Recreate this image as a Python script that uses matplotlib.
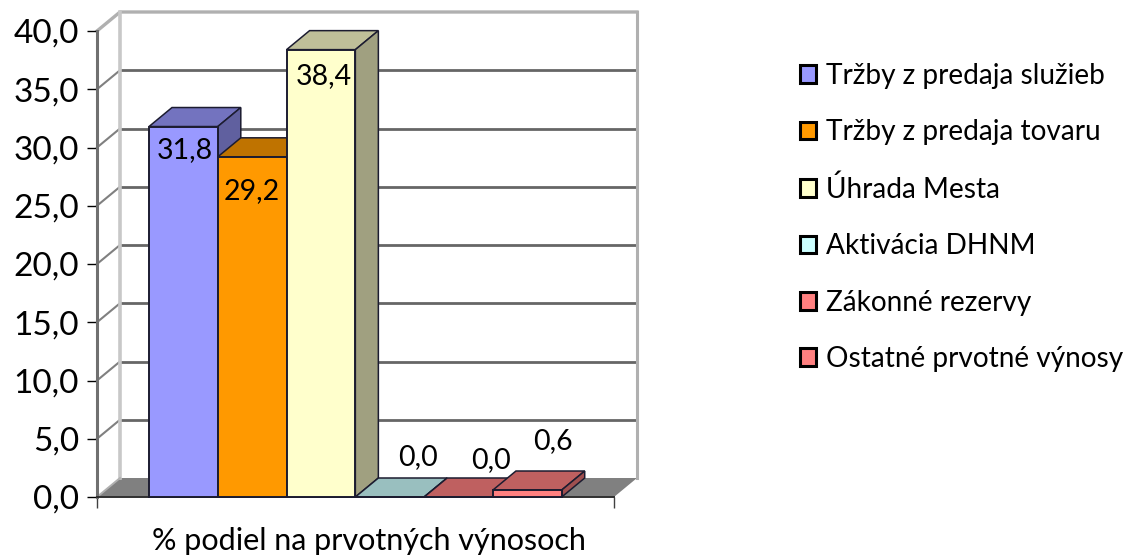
import matplotlib
matplotlib.use("Agg")
import matplotlib.pyplot as plt
from matplotlib.patches import Patch

plt.rcParams["font.family"] = ["Lato", "DejaVu Sans"]

series = ["Tržby z predaja služieb", "Tržby z predaja tovaru", "Úhrada Mesta",
          "Aktivácia DHNM", "Zákonné rezervy", "Ostatné prvotné výnosy"]
values = [31.8, 29.2, 38.4, 0.0, 0.0, 0.6]
front_colors = ["#9999ff", "#ff9900", "#ffffcc", "#ccffff", "#ff8080", "#ff8080"]
top_colors = ["#7373bf", "#bf7300", "#bfbf99", "#99bfbf", "#bf6060", "#bf6060"]
side_colors = ["#60609f", "#a06000", "#a0a080", "#80a0a0", "#a05050", "#a05050"]
y_ticks = [0, 5, 10, 15, 20, 25, 30, 35, 40]
x_label = "% podiel na prvotných výnosoch"

W, H = 1141, 558
# axes box in pixels of the front plane
L, R, T, B = 97, 614, 31, 497
XMIN, XMAX = -0.756, 6.76
YMAX = 40
# 3d depth in data units
DX = 23 / ((R - L) / (XMAX - XMIN))
DY = 19 / ((B - T) / YMAX)

fig = plt.figure(figsize=(W / 100, H / 100), dpi=100)
ax = fig.add_axes([L / W, 1 - B / H, (R - L) / W, (B - T) / H])
ax.set_xlim(XMIN, XMAX)
ax.set_ylim(0, YMAX)
ax.patch.set_visible(False)

# floor
ax.fill([XMIN, XMAX, XMAX + DX, XMIN + DX], [0, 0, DY, DY],
        color="#808080", lw=0, zorder=1, clip_on=False)

# walls and gridlines
for t in y_ticks[1:-1]:
    ax.plot([XMIN + DX, XMAX + DX], [t + DY, t + DY], color="#666666", lw=2.0, zorder=1, clip_on=False)
    ax.plot([XMIN, XMIN + DX], [t, t + DY], color="#808080", lw=1.5, zorder=1, clip_on=False)
ax.plot([XMIN, XMIN + DX, XMAX + DX], [YMAX, YMAX + DY, YMAX + DY], color="#b0b0b0", lw=2.4, zorder=1, clip_on=False)
ax.plot([XMIN + DX, XMIN + DX], [DY, YMAX + DY], color="#c8c8c8", lw=2.6, zorder=1, clip_on=False)
ax.plot([XMAX + DX, XMAX + DX], [DY, YMAX + DY], color="#b0b0b0", lw=2.2, zorder=1, clip_on=False)
ax.plot([XMIN, XMIN + DX], [0, DY], color="#b0b0b0", lw=1.4, zorder=1, clip_on=False)

# bars, left to right so each one covers the side of the previous
edge = "#1c1c30"
for i, v in enumerate(values):
    z = 3 + i
    x0, x1 = i, i + 1
    ax.fill([x0, x1, x1 + DX, x0 + DX], [v, v, v + DY, v + DY], facecolor=top_colors[i],
            edgecolor=edge, lw=1.1, zorder=z, clip_on=False)
    ax.fill([x1, x1 + DX, x1 + DX, x1], [0, DY, v + DY, v], facecolor=side_colors[i],
            edgecolor=edge, lw=1.1, zorder=z, clip_on=False)
    ax.bar(x0 + 0.5, v, width=1, color=front_colors[i], edgecolor=edge, lw=1.4, zorder=z, clip_on=False)

# data labels
label_offsets = [(1, -24), (0, -34), (3, -26), (28, 40), (32, 37), (26, 49)]
for i, v in enumerate(values):
    ax.annotate(f"{v:.1f}".replace(".", ","), (i + 0.5, v), xytext=label_offsets[i],
                textcoords="offset pixels", ha="center", va="center", fontsize=20.5, zorder=20)

# axes
for s in ["top", "right"]:
    ax.spines[s].set_visible(False)
ax.spines["left"].set_color("#707070")
ax.spines["left"].set_linewidth(2.2)
ax.spines["bottom"].set_color("#303030")
ax.spines["bottom"].set_linewidth(1.4)
ax.spines["left"].set_zorder(2)
ax.set_yticks(y_ticks)
ax.set_yticklabels([f"{t:.1f}".replace(".", ",") for t in y_ticks], fontsize=24)
ax.tick_params(axis="y", length=7, width=1, color="black", pad=6)
ax.set_xticks([XMIN, XMAX])
ax.set_xticklabels(["", ""])
ax.tick_params(axis="x", length=8, width=1, color="#404040")
fig.text(369 / W, 1 - 541 / H, x_label, ha="center", va="center", fontsize=22)

# legend
handles = [Patch(facecolor=c, edgecolor="black", lw=2.2) for c in front_colors]
fig.legend(handles, series, loc="upper left", bbox_to_anchor=(800 / W, 1 - 63 / H), frameon=False,
           fontsize=20.2, handlelength=0.58, handleheight=0.58, handletextpad=0.35,
           labelspacing=1.08, borderpad=0, borderaxespad=0)

fig.savefig("out.png", dpi=100)
plt.close(fig)
